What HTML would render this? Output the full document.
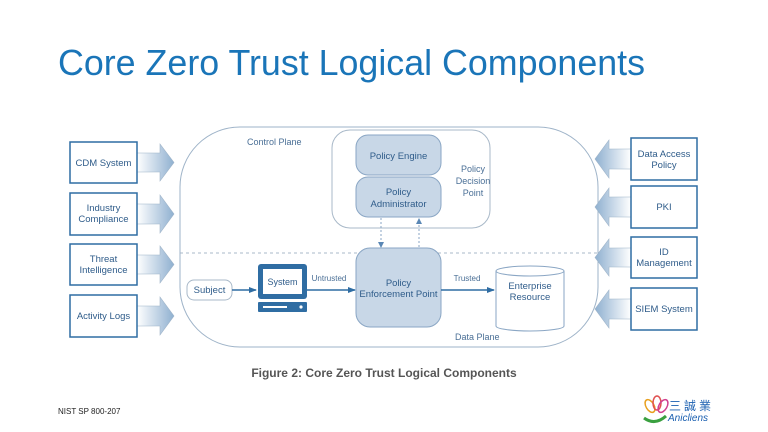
<!DOCTYPE html>
<html><head><meta charset="utf-8"><style>
html,body{margin:0;padding:0;background:#fff;}
svg{display:block;font-family:"Liberation Sans",sans-serif;}
</style></head><body>
<svg width="768" height="432" viewBox="0 0 768 432" xmlns="http://www.w3.org/2000/svg">
<defs>
<linearGradient id="gr" x1="0" y1="0" x2="1" y2="0">
<stop offset="0" stop-color="#ffffff"/><stop offset="1" stop-color="#8fb0d0"/>
</linearGradient>
<linearGradient id="gl" x1="1" y1="0" x2="0" y2="0">
<stop offset="0" stop-color="#ffffff"/><stop offset="1" stop-color="#8fb0d0"/>
</linearGradient>
<marker id="ah" markerWidth="8" markerHeight="8" refX="7" refY="4" orient="auto" markerUnits="userSpaceOnUse">
<path d="M0,1 L8,4 L0,7 Z" fill="#2f6da3"/></marker>
<marker id="sh" markerWidth="6" markerHeight="6" refX="5" refY="3" orient="auto" markerUnits="userSpaceOnUse">
<path d="M0,0 L6,3 L0,6 Z" fill="#5a87b5"/></marker>
</defs>
<text x="58" y="75" font-size="36" fill="#1a75b8" textLength="587" lengthAdjust="spacingAndGlyphs">Core Zero Trust Logical Components</text>

<rect x="180" y="127" width="418" height="220" rx="60" ry="60" fill="#fff" stroke="#9eb3c8" stroke-width="1"/>
<line x1="180" y1="253" x2="598" y2="253" stroke="#a8b8c8" stroke-dasharray="3,3"/>
<text x="247" y="145" font-size="9" fill="#4a6f96">Control Plane</text>
<text x="455" y="340" font-size="9" fill="#4a6f96">Data Plane</text>

<rect x="332" y="130" width="158" height="98" rx="18" fill="#fff" stroke="#a8b8c8"/>
<text x="473" y="172" font-size="9" fill="#4a6f96" text-anchor="middle">Policy</text>
<text x="473" y="184" font-size="9" fill="#4a6f96" text-anchor="middle">Decision</text>
<text x="473" y="196" font-size="9" fill="#4a6f96" text-anchor="middle">Point</text>
<rect x="356" y="135" width="85" height="40" rx="12" fill="#c8d7e7" stroke="#8aa6c4"/>
<text x="398.5" y="159" font-size="9.5" fill="#2f5c8a" text-anchor="middle">Policy Engine</text>
<rect x="356" y="177" width="85" height="40" rx="12" fill="#c8d7e7" stroke="#8aa6c4"/>
<text x="398.5" y="195" font-size="9.5" fill="#2f5c8a" text-anchor="middle">Policy</text>
<text x="398.5" y="207" font-size="9.5" fill="#2f5c8a" text-anchor="middle">Administrator</text>

<line x1="381" y1="218" x2="381" y2="247" stroke="#8aa6c4" stroke-dasharray="2,2" marker-end="url(#sh)"/>
<line x1="419" y1="247" x2="419" y2="219" stroke="#8aa6c4" stroke-dasharray="2,2" marker-end="url(#sh)"/>

<rect x="356" y="248" width="85" height="79" rx="14" fill="#c8d7e7" stroke="#8aa6c4"/>
<text x="398.5" y="286" font-size="9.5" fill="#2f5c8a" text-anchor="middle">Policy</text>
<text x="398.5" y="297" font-size="9.5" fill="#2f5c8a" text-anchor="middle">Enforcement Point</text>

<rect x="187" y="280" width="45" height="20" rx="7" fill="#fff" stroke="#a8b8c8"/>
<text x="209.5" y="293" font-size="9.5" fill="#2f5c8a" text-anchor="middle">Subject</text>
<line x1="232" y1="290" x2="256" y2="290" stroke="#2f6da3" stroke-width="1.5" marker-end="url(#ah)"/>

<rect x="258" y="264" width="49" height="35" rx="3" fill="#2f6da3"/>
<rect x="263" y="269" width="39" height="25" fill="#fff"/>
<text x="282.5" y="285" font-size="9" fill="#2f5c8a" text-anchor="middle">System</text>
<rect x="258" y="302" width="49" height="10" rx="1" fill="#2f6da3"/>
<rect x="263" y="306" width="24" height="2" fill="#fff"/>
<circle cx="301" cy="307" r="1.6" fill="#fff"/>
<line x1="307" y1="290" x2="355" y2="290" stroke="#2f6da3" stroke-width="1.5" marker-end="url(#ah)"/>
<text x="329" y="281" font-size="8" fill="#4a6f96" text-anchor="middle">Untrusted</text>

<line x1="441" y1="290" x2="494" y2="290" stroke="#2f6da3" stroke-width="1.5" marker-end="url(#ah)"/>
<text x="467" y="281" font-size="8" fill="#4a6f96" text-anchor="middle">Trusted</text>

<path d="M496,271 L496,326 A34,5 0 0 0 564,326 L564,271" fill="#fff" stroke="#8aa6c4"/>
<ellipse cx="530" cy="271" rx="34" ry="5" fill="#fff" stroke="#8aa6c4"/>
<text x="530" y="289" font-size="9.5" fill="#2f5c8a" text-anchor="middle">Enterprise</text>
<text x="530" y="300" font-size="9.5" fill="#2f5c8a" text-anchor="middle">Resource</text>

<g font-size="9.5" fill="#2f5c8a" text-anchor="middle">
<path d="M137,153 L160,153 L160,144 L174,162.5 L160,181 L160,172 L137,172 Z" fill="url(#gr)" stroke="#9eb3c8" stroke-width="0.6"/>
<rect x="70" y="142" width="67" height="41" fill="#fff" stroke="#2f6da3" stroke-width="1.5"/>
<text x="103.5" y="166">CDM System</text>
<path d="M137,204 L160,204 L160,195 L174,214 L160,233 L160,224 L137,224 Z" fill="url(#gr)" stroke="#9eb3c8" stroke-width="0.6"/>
<rect x="70" y="193" width="67" height="42" fill="#fff" stroke="#2f6da3" stroke-width="1.5"/>
<text x="103.5" y="211">Industry</text>
<text x="103.5" y="222">Compliance</text>
<path d="M137,255 L160,255 L160,246 L174,264.5 L160,283 L160,274 L137,274 Z" fill="url(#gr)" stroke="#9eb3c8" stroke-width="0.6"/>
<rect x="70" y="244" width="67" height="41" fill="#fff" stroke="#2f6da3" stroke-width="1.5"/>
<text x="103.5" y="262">Threat</text>
<text x="103.5" y="273">Intelligence</text>
<path d="M137,306 L160,306 L160,297 L174,316 L160,335 L160,326 L137,326 Z" fill="url(#gr)" stroke="#9eb3c8" stroke-width="0.6"/>
<rect x="70" y="295" width="67" height="42" fill="#fff" stroke="#2f6da3" stroke-width="1.5"/>
<text x="103.5" y="319">Activity Logs</text>

<path d="M631,149 L609,149 L609,140 L595,159 L609,178 L609,169 L631,169 Z" fill="url(#gl)" stroke="#9eb3c8" stroke-width="0.6"/>
<rect x="631" y="138" width="66" height="42" fill="#fff" stroke="#2f6da3" stroke-width="1.5"/>
<text x="664" y="157">Data Access</text>
<text x="664" y="168">Policy</text>
<path d="M631,197 L609,197 L609,188 L595,207 L609,226 L609,217 L631,217 Z" fill="url(#gl)" stroke="#9eb3c8" stroke-width="0.6"/>
<rect x="631" y="186" width="66" height="42" fill="#fff" stroke="#2f6da3" stroke-width="1.5"/>
<text x="664" y="210">PKI</text>
<path d="M631,248 L609,248 L609,239 L595,257.5 L609,276 L609,267 L631,267 Z" fill="url(#gl)" stroke="#9eb3c8" stroke-width="0.6"/>
<rect x="631" y="237" width="66" height="41" fill="#fff" stroke="#2f6da3" stroke-width="1.5"/>
<text x="664" y="255">ID</text>
<text x="664" y="266">Management</text>
<path d="M631,299 L609,299 L609,290 L595,309 L609,328 L609,319 L631,319 Z" fill="url(#gl)" stroke="#9eb3c8" stroke-width="0.6"/>
<rect x="631" y="288" width="66" height="42" fill="#fff" stroke="#2f6da3" stroke-width="1.5"/>
<text x="664" y="312">SIEM System</text>
</g>

<text x="384" y="377" font-size="12" font-weight="bold" fill="#555" text-anchor="middle">Figure 2: Core Zero Trust Logical Components</text>
<text x="58" y="414" font-size="8" fill="#222">NIST SP 800-207</text>

<g>
<ellipse cx="650" cy="406" rx="4" ry="7" fill="none" stroke="#e8a020" stroke-width="1.5" transform="rotate(-30 650 406)"/>
<ellipse cx="657" cy="403" rx="4" ry="7" fill="none" stroke="#e05050" stroke-width="1.5"/>
<ellipse cx="663" cy="406" rx="4" ry="7" fill="none" stroke="#d04090" stroke-width="1.5" transform="rotate(30 663 406)"/>
<path d="M644,418 Q655,426 666,416" fill="none" stroke="#3aa040" stroke-width="3"/>
<text x="669" y="410" font-size="12" fill="#1a5fb0" font-family="'Noto Sans CJK TC',sans-serif" letter-spacing="3">三誠業</text>
<text x="668" y="421" font-size="10" fill="#1a5fb0" font-style="italic">Anicliens</text>
</g>
</svg>
</body></html>
